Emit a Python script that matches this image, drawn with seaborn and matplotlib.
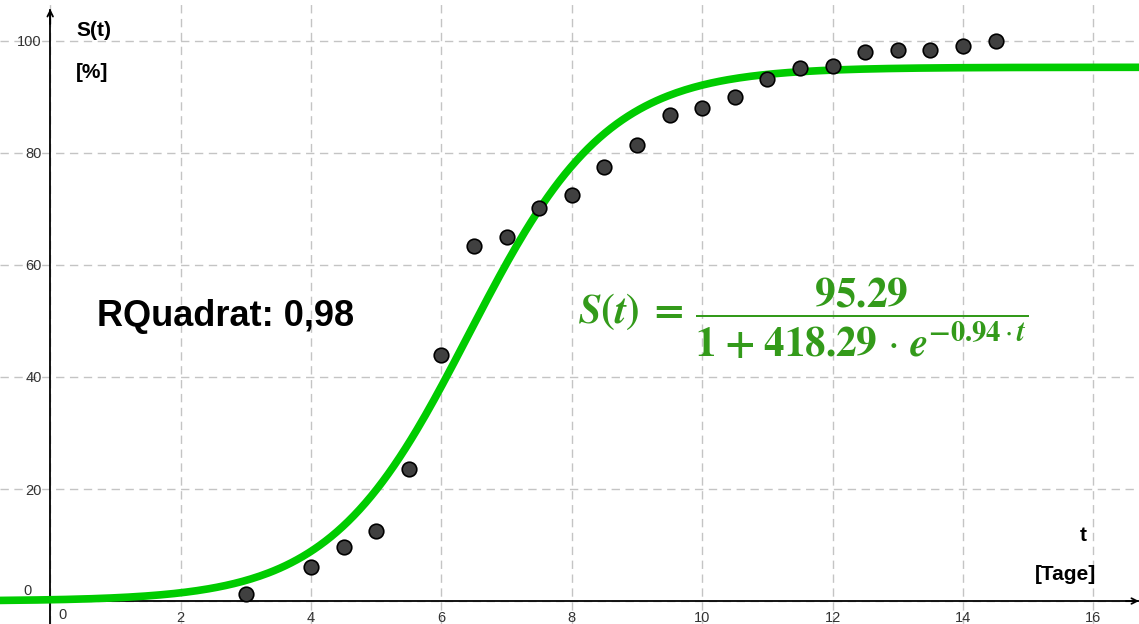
import numpy as np
import pandas as pd
import matplotlib
matplotlib.use("Agg")
import matplotlib.pyplot as plt
import seaborn as sns
from matplotlib.ticker import FuncFormatter

# measured data (Tage, %)
days = [3, 4, 4.5, 5, 5.5, 6, 6.5, 7, 7.5, 8, 8.5, 9, 9.5, 10, 10.5,
        11, 11.5, 12, 12.5, 13, 13.5, 14, 14.5]
share = [1.2, 6.1, 9.6, 12.5, 23.6, 43.9, 63.4, 65.0, 70.2, 72.5, 77.5, 81.4,
         86.8, 88.0, 90.0, 93.2, 95.2, 95.5, 98.0, 98.4, 98.4, 99.0, 100.0]

# logistic fit parameters shown in the chart
fit_a = 95.29
fit_b = 418.29
fit_k = 0.94
r_squared = "0,98"

x_ticks = [0, 2, 4, 6, 8, 10, 12, 14, 16]
y_ticks = [0, 20, 40, 60, 80, 100]

sns.set_style("white")
plt.rcParams["font.family"] = ["Liberation Sans", "DejaVu Sans"]
plt.rcParams["text.color"] = "black"

fig = plt.figure(figsize=(11.39, 6.24), dpi=100)
ax = fig.add_axes([0, 0, 1, 1])
ax.set_xlim(-0.77, 16.70)
ax.set_ylim(-4.1, 107.3)

# grid
ax.set_xticks(x_ticks)
ax.set_yticks(y_ticks)
ax.grid(True, color="#c4c4c4", linestyle=(0, (6, 4)), linewidth=1.0)

# axes through origin
for side in ["top", "right"]:
    ax.spines[side].set_visible(False)
ax.spines["left"].set_position(("data", 0))
ax.spines["bottom"].set_position(("data", 0))
ax.spines["left"].set_bounds(-4.1, 105.5)
ax.spines["left"].set_color("black")
ax.spines["bottom"].set_color("black")
ax.spines["left"].set_linewidth(1.3)
ax.spines["bottom"].set_linewidth(1.3)
ax.annotate("", xy=(16.70, 0), xytext=(16.5, 0),
            arrowprops=dict(arrowstyle="->", lw=1.3, color="black",
                            shrinkA=0, shrinkB=0), annotation_clip=False)
ax.annotate("", xy=(0, 105.7), xytext=(0, 103),
            arrowprops=dict(arrowstyle="->", lw=1.3, color="black",
                            shrinkA=0, shrinkB=0), annotation_clip=False)

hide_zero = FuncFormatter(lambda v, p: "" if v == 0 else f"{v:g}")
ax.xaxis.set_major_formatter(hide_zero)
ax.yaxis.set_major_formatter(hide_zero)
ax.tick_params(axis="both", direction="out", length=4, width=1,
               labelsize=10.5, labelcolor="#333333", color="black", pad=2)
ax.tick_params(axis="x", pad=3)
ax.text(0.12, -1.2, "0", fontsize=10.5, color="#333333", ha="left", va="top")
ax.text(-0.28, 0.6, "0", fontsize=10.5, color="#333333", ha="right", va="bottom")

# fitted curve
t = np.linspace(-0.77, 16.70, 400)
curve = fit_a / (1 + fit_b * np.exp(-fit_k * t))
sns.lineplot(x=t, y=curve, ax=ax, color="#00cc00", linewidth=5.5, zorder=3)

# data points
df = pd.DataFrame({"t": days, "S": share})
sns.scatterplot(data=df, x="t", y="S", ax=ax, s=110, color="#404040",
                edgecolor="black", linewidth=1.2, zorder=4)
ax.set_xlabel("")
ax.set_ylabel("")

# labels
ax.text(0.4, 101.8, "S(t)", fontsize=15, fontweight="bold", va="center")
ax.text(0.4, 94.3, "[%]", fontsize=15, fontweight="bold", va="center")
ax.text(15.9, 11.7, "t", fontsize=15, fontweight="bold", ha="right", va="center")
ax.text(16.05, 4.8, "[Tage]", fontsize=15, fontweight="bold", ha="right", va="center")

ax.text(0.72, 50.8, f"RQuadrat: {r_squared}", fontsize=26, fontweight="bold",
        va="center")

formula = (r"$\boldsymbol{S(t)}\;\boldsymbol{=}\;\dfrac{\boldsymbol{95.29}}"
           r"{\boldsymbol{1}\;\boldsymbol{+}\;\boldsymbol{418.29}\,\cdot\,"
           r"\boldsymbol{e}^{\boldsymbol{-0.94}\cdot\boldsymbol{t}}}$")
ax.text(8.1, 50.4, formula, fontsize=29.5, color="#339a1a", va="center",
        ha="left", math_fontfamily="stix")

fig.savefig("out.png", dpi=100)
